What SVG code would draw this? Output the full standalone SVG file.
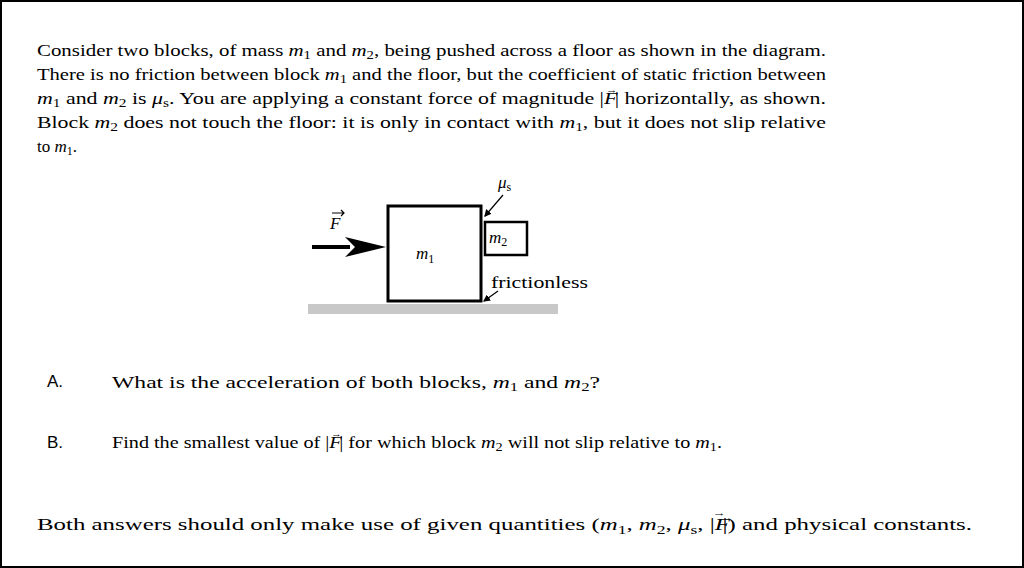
<svg xmlns="http://www.w3.org/2000/svg" width="1024" height="568" viewBox="0 0 1024 568">
<style>
.t{font-family:"Liberation Serif",serif;font-size:17px;fill:#000}
.m{font-style:italic}
.s{font-size:12px;font-style:normal}
.ar{font-size:9px;font-style:normal}
.h{font-family:"Liberation Sans",sans-serif;font-size:17px}
.thin{stroke:#000;stroke-width:1.2;fill:none}
</style>
<defs><marker id="ah" markerWidth="6" markerHeight="6" refX="5" refY="3" orient="auto"><path d="M0,0L6,3L0,6z" fill="#000"/></marker></defs>
<rect x="0" y="0" width="1024" height="568" fill="#fff"/>
<rect x="1" y="1" width="1022" height="566" fill="none" stroke="#000" stroke-width="2"/>
<g id="text-intro">
<text class="t" x="37" y="56" textLength="789" lengthAdjust="spacingAndGlyphs">Consider two blocks, of mass <tspan class="m">m</tspan><tspan class="s" dy="3">1</tspan><tspan dy="-3"> and </tspan><tspan class="m">m</tspan><tspan class="s" dy="3">2</tspan><tspan dy="-3">, being pushed across a floor as shown in the diagram.</tspan></text>
<text class="t" x="37" y="80" textLength="789" lengthAdjust="spacingAndGlyphs">There is no friction between block <tspan class="m">m</tspan><tspan class="s" dy="3">1</tspan><tspan dy="-3"> and the floor, but the coefficient of static friction between</tspan></text>
<text class="t" x="37" y="104" textLength="789" lengthAdjust="spacingAndGlyphs"><tspan class="m">m</tspan><tspan class="s" dy="3">1</tspan><tspan dy="-3"> and </tspan><tspan class="m">m</tspan><tspan class="s" dy="3">2</tspan><tspan dy="-3"> is </tspan><tspan class="m">μ</tspan><tspan class="s m" dy="3">s</tspan><tspan dy="-3">.  You are applying a constant force of magnitude |</tspan><tspan class="m">F</tspan><tspan class="ar" dx="-9" dy="-11">→</tspan><tspan dx="-2" dy="11">| horizontally, as shown.</tspan></text>
<text class="t" x="37" y="128" textLength="789" lengthAdjust="spacingAndGlyphs">Block <tspan class="m">m</tspan><tspan class="s" dy="3">2</tspan><tspan dy="-3"> does not touch the floor: it is only in contact with </tspan><tspan class="m">m</tspan><tspan class="s" dy="3">1</tspan><tspan dy="-3">, but it does not slip relative</tspan></text>
<text class="t" x="37" y="152">to <tspan class="m">m</tspan><tspan class="s" dy="3">1</tspan><tspan dy="-3">.</tspan></text>
</g>
<g id="ground"><rect x="308" y="304" width="250" height="10" fill="#c8c8c8"/></g>
<g id="block-m1"><rect x="388" y="206" width="93" height="95" fill="#fff" stroke="#000" stroke-width="3"/>
<text class="t m" x="416" y="259" font-size="20">m<tspan class="s" dy="4" font-size="14">1</tspan></text></g>
<g id="block-m2"><rect x="485" y="222" width="42" height="33" fill="#fff" stroke="#000" stroke-width="2.5"/>
<text class="t m" x="489" y="243" font-size="19">m<tspan class="s" dy="3" font-size="13">2</tspan></text></g>
<g id="force"><line x1="312" y1="247" x2="350" y2="247" stroke="#000" stroke-width="4"/>
<path d="M345,237 L386,247 L345,257 L355,247 z" fill="#000"/>
<text class="t m" x="330" y="229" font-size="19">F</text><path d="M332,213 L344,213 M341,210 L344,213 L341,216" class="thin"/></g>
<g id="connectors">
<line x1="503" y1="195" x2="485" y2="216" class="thin" marker-end="url(#ah)"/>
<line x1="498" y1="291" x2="484" y2="301" class="thin" marker-end="url(#ah)"/>
</g>
<text class="t m" x="498" y="188" font-size="18">μ<tspan class="s" dy="3" font-style="italic">s</tspan></text>
<text class="t" x="491" y="288" textLength="97" lengthAdjust="spacingAndGlyphs">frictionless</text>
<g id="questions">
<text class="h" x="47" y="387">A.</text>
<text class="t" x="112" y="388" font-size="19" textLength="488" lengthAdjust="spacingAndGlyphs">What is the acceleration of both blocks, <tspan class="m">m</tspan><tspan class="s" dy="3">1</tspan><tspan dy="-3"> and </tspan><tspan class="m">m</tspan><tspan class="s" dy="3">2</tspan><tspan dy="-3">?</tspan></text>
<text class="h" x="47" y="448">B.</text>
<text class="t" x="112" y="448" font-size="16" textLength="610" lengthAdjust="spacingAndGlyphs">Find the smallest value of |<tspan class="m">F</tspan><tspan class="ar" dx="-9" dy="-11">→</tspan><tspan dx="-2" dy="11">| for which block </tspan><tspan class="m">m</tspan><tspan class="s" dy="3">2</tspan><tspan dy="-3"> will not slip relative to </tspan><tspan class="m">m</tspan><tspan class="s" dy="3">1</tspan><tspan dy="-3">.</tspan></text>
<text class="t" x="37" y="530" font-size="22" textLength="935" lengthAdjust="spacingAndGlyphs">Both answers should only make use of given quantities (<tspan class="m">m</tspan><tspan class="s" dy="4" font-size="15">1</tspan><tspan dy="-4">, </tspan><tspan class="m">m</tspan><tspan class="s" dy="4" font-size="15">2</tspan><tspan dy="-4">, </tspan><tspan class="m">μ</tspan><tspan class="s m" dy="4" font-size="15">s</tspan><tspan dy="-4">, |</tspan><tspan class="m">F</tspan><tspan class="ar" font-size="12" dx="-12" dy="-14">→</tspan><tspan dx="-2" dy="14">|) and physical constants.</tspan></text>
</g>
</svg>
